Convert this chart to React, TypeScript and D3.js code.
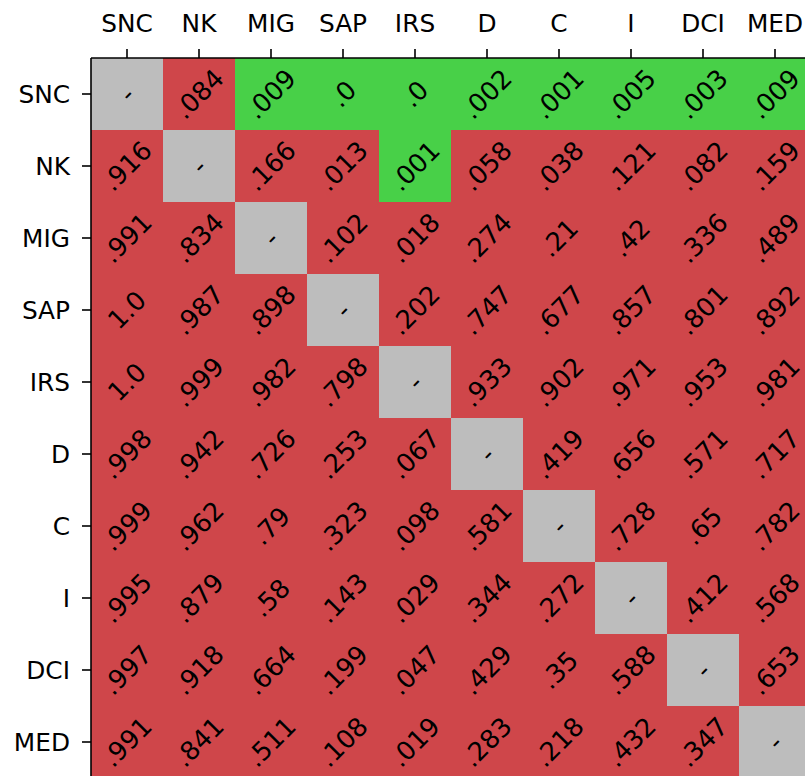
import React from "react";
import * as d3 from "d3";

const labels = ["SNC", "NK", "MIG", "SAP", "IRS", "D", "C", "I", "DCI", "MED"];

// p-values, row by row (null = diagonal)
const rowSNC = [null, 0.084, 0.009, 0.0, 0.0, 0.002, 0.001, 0.005, 0.003, 0.009];
const rowNK = [0.916, null, 0.166, 0.013, 0.001, 0.058, 0.038, 0.121, 0.082, 0.159];
const rowMIG = [0.991, 0.834, null, 0.102, 0.018, 0.274, 0.21, 0.42, 0.336, 0.489];
const rowSAP = [1.0, 0.987, 0.898, null, 0.202, 0.747, 0.677, 0.857, 0.801, 0.892];
const rowIRS = [1.0, 0.999, 0.982, 0.798, null, 0.933, 0.902, 0.971, 0.953, 0.981];
const rowD = [0.998, 0.942, 0.726, 0.253, 0.067, null, 0.419, 0.656, 0.571, 0.717];
const rowC = [0.999, 0.962, 0.79, 0.323, 0.098, 0.581, null, 0.728, 0.65, 0.782];
const rowI = [0.995, 0.879, 0.58, 0.143, 0.029, 0.344, 0.272, null, 0.412, 0.568];
const rowDCI = [0.997, 0.918, 0.664, 0.199, 0.047, 0.429, 0.35, 0.588, null, 0.653];
const rowMED = [0.991, 0.841, 0.511, 0.108, 0.019, 0.283, 0.218, 0.432, 0.347, null];

const values = [rowSNC, rowNK, rowMIG, rowSAP, rowIRS, rowD, rowC, rowI, rowDCI, rowMED];

// significant (green) cells: [row, col]
const significant = [
  [0, 2], [0, 3], [0, 4], [0, 5], [0, 6], [0, 7], [0, 8], [0, 9],
  [1, 4],
];

const W = 805;
const H = 776;
const left = 91;
const top = 58;
const cell = 72;

const RED = "#cf464a";
const GREEN = "#48d048";
const GRAY = "#bdbdbd";
const FONT = "DejaVu Sans";
const FS = 24.8;
const CELL_FS = 25.8;

function fmt(v: number | null): string {
  if (v === null) return "-";
  let s = Number.isInteger(v) ? v.toFixed(1) : String(v);
  if (s.startsWith("0.")) s = s.slice(1);
  return s;
}

export default function App() {
  const x = d3
    .scaleBand<string>()
    .domain(labels)
    .range([left, left + cell * labels.length])
    .padding(0);
  const y = d3
    .scaleBand<string>()
    .domain(labels)
    .range([top, top + cell * labels.length])
    .padding(0);
  const bw = x.bandwidth();
  const bh = y.bandwidth();
  const sigSet = new Set(significant.map(([r, c]) => `${r}-${c}`));

  const cells: { r: number; c: number; v: number | null }[] = [];
  values.forEach((row, r) => row.forEach((v, c) => cells.push({ r, c, v })));

  return (
    <svg
      width={W}
      height={H}
      style={{ position: "absolute", left: 0, top: 0, background: "#fff" }}
    >
      <g shapeRendering="crispEdges">
        {cells.map(({ r, c, v }) => {
          const fill = v === null ? GRAY : sigSet.has(`${r}-${c}`) ? GREEN : RED;
          return (
            <rect
              key={`r${r}-${c}`}
              x={x(labels[c])!}
              y={y(labels[r])!}
              width={bw}
              height={bh}
              fill={fill}
            />
          );
        })}
      </g>
      <g>
        {cells.map(({ r, c, v }) => {
          const cx = x(labels[c])! + bw / 2;
          const cy = y(labels[r])! + bh / 2;
          return (
            <text
              key={`t${r}-${c}`}
              transform={`translate(${cx},${cy}) rotate(-45)`}
              textAnchor="middle"
              dominantBaseline="central"
              fontFamily={FONT}
              fontSize={CELL_FS}
              fill="#000"
            >
              {fmt(v)}
            </text>
          );
        })}
      </g>
      {/* spines */}
      <line x1={left} x2={W + 10} y1={top} y2={top} stroke="#000" strokeWidth={1.6} />
      <line x1={left} x2={left} y1={top} y2={H + 10} stroke="#000" strokeWidth={1.6} />
      {/* top ticks */}
      {labels.map((l) => {
        const cx = x(l)! + bw / 2;
        return (
          <g key={`xt${l}`}>
            <line x1={cx} x2={cx} y1={top} y2={top - 9} stroke="#000" strokeWidth={1.6} />
            <text
              x={cx}
              y={31.5}
              textAnchor="middle"
              fontFamily={FONT}
              fontSize={FS}
              fill="#000"
            >
              {l}
            </text>
          </g>
        );
      })}
      {/* left ticks */}
      {labels.map((l) => {
        const cy = y(l)! + bh / 2;
        return (
          <g key={`yt${l}`}>
            <line x1={left} x2={left - 9} y1={cy} y2={cy} stroke="#000" strokeWidth={1.6} />
            <text
              x={left - 21}
              y={cy + FS * 0.365}
              textAnchor="end"
              fontFamily={FONT}
              fontSize={FS}
              fill="#000"
            >
              {l}
            </text>
          </g>
        );
      })}
    </svg>
  );
}
